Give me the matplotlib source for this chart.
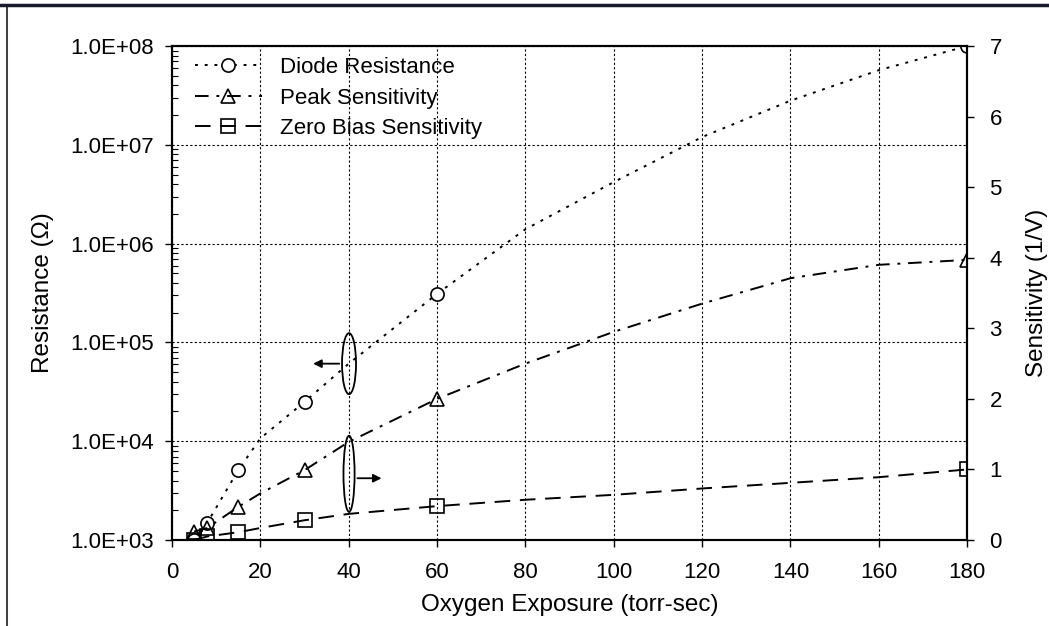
import matplotlib
matplotlib.use("Agg")
import matplotlib.pyplot as plt
from matplotlib.patches import Ellipse
from matplotlib.lines import Line2D
from matplotlib.ticker import FuncFormatter, LogLocator, NullFormatter

plt.rcParams['font.family'] = ['Liberation Sans', 'DejaVu Sans']

# values (markers at 5, 8, 15, 30, 60, 180)
exposure = [5, 8, 15, 20, 30, 40, 60, 80, 100, 120, 140, 160, 180]
diode_res = [1.0e3, 1.5e3, 5.1e3, 1.07e4, 2.5e4, 6.1e4, 3.1e5, 1.4e6, 4.2e6, 1.2e7, 2.8e7, 5.7e7, 1.0e8]
peak_sens = [0.12, 0.17, 0.47, 0.66, 0.99, 1.39, 2.0, 2.5, 2.95, 3.35, 3.71, 3.90, 3.97]
zero_sens = [0.0, 0.05, 0.11, 0.17, 0.28, 0.37, 0.48, 0.57, 0.64, 0.73, 0.81, 0.89, 1.0]
marker_idx = [0, 1, 2, 4, 6, 12]

x_ticks = [0, 20, 40, 60, 80, 100, 120, 140, 160, 180]
right_ticks = [0, 1, 2, 3, 4, 5, 6, 7]

fs_tick = 16
fs_label = 17.5

fig = plt.figure(figsize=(10.49, 6.26), dpi=100)
ax = fig.add_axes([0.164, 0.1374, 0.758, 0.789])
ax2 = ax.twinx()

ax.plot(exposure, diode_res, color='black', lw=1.4, dashes=(1.5, 3.5),
        marker='o', markevery=marker_idx, ms=9.5, mfc='white', mec='black', mew=1.2,
        label='Diode Resistance')
ax2.plot(exposure, peak_sens, color='black', lw=1.4, dashes=(7, 4, 1.5, 4),
         marker='^', markevery=marker_idx, ms=10, mfc='none', mec='black', mew=1.2,
         label='Peak Sensitivity')
ax2.plot(exposure, zero_sens, color='black', lw=1.4, dashes=(8, 5),
         marker='s', markevery=marker_idx, ms=9.5, mfc='none', mec='black', mew=1.2,
         label='Zero Bias Sensitivity')

ax.set_yscale('log')
ax.set_xlim(0, 180)
ax.set_ylim(1e3, 1e8)
ax2.set_ylim(0, 7)
ax.set_xticks(x_ticks)
ax2.set_yticks(right_ticks)
ax.yaxis.set_major_locator(LogLocator(base=10, numticks=10))
ax.yaxis.set_minor_locator(LogLocator(base=10, subs=range(2, 10), numticks=20))
ax.yaxis.set_minor_formatter(NullFormatter())
ax.yaxis.set_major_formatter(FuncFormatter(lambda v, p: f"{v:.1E}"))

ax.grid(True, which='major', color='black', ls=(0, (2, 2)), lw=0.8)
ax.tick_params(axis='x', which='major', labelsize=fs_tick, direction='out', length=5, width=1, pad=11)
ax.tick_params(axis='y', which='major', labelsize=fs_tick, direction='out', length=5, width=1, pad=8)
ax.tick_params(axis='y', which='minor', direction='in', length=4, width=0.8)
ax2.tick_params(axis='y', labelsize=fs_tick, direction='out', length=5, width=1, pad=11)

for a in (ax, ax2):
    for s in a.spines.values():
        s.set_linewidth(1.5)

ax.set_xlabel('Oxygen Exposure (torr-sec)', fontsize=fs_label, labelpad=8)
ax.set_ylabel('Resistance (\u03a9)', fontsize=fs_label, labelpad=12)
ax2.set_ylabel('Sensitivity (1/V)', fontsize=fs_label, labelpad=17)

# ellipses and arrows showing which axis each group uses
ax2.add_patch(Ellipse((0.2226, 0.357), 0.0176, 0.1235, transform=ax2.transAxes,
                      fill=False, ec='black', lw=1.3))
ax2.add_patch(Ellipse((0.2226, 0.134), 0.014, 0.154, transform=ax2.transAxes,
                      fill=False, ec='black', lw=1.3))
ax2.annotate('', xy=(0.174, 0.357), xytext=(0.2138, 0.357), xycoords='axes fraction',
             arrowprops=dict(arrowstyle='-|>', color='black', lw=1.3, mutation_scale=12))
ax2.annotate('', xy=(0.267, 0.125), xytext=(0.2296, 0.125), xycoords='axes fraction',
             arrowprops=dict(arrowstyle='-|>', color='black', lw=1.3, mutation_scale=12))

h1, l1 = ax.get_legend_handles_labels()
h2, l2 = ax2.get_legend_handles_labels()
ax2.legend(h1 + h2, l1 + l2, loc='upper left', bbox_to_anchor=(0.015, 1.0),
           frameon=False, fontsize=fs_tick, handlelength=3.0, handletextpad=0.8,
           labelspacing=0.42, borderaxespad=0.1)

# outer frame (top and left only, like the cropped original)
fig.add_artist(Line2D([0, 1], [0.992, 0.992], transform=fig.transFigure, color='#1a1a2e', lw=2.5))
fig.add_artist(Line2D([0.0067, 0.0067], [0, 0.992], transform=fig.transFigure, color='#1a1a2e', lw=1.2))

fig.savefig('out.png', dpi=100)
